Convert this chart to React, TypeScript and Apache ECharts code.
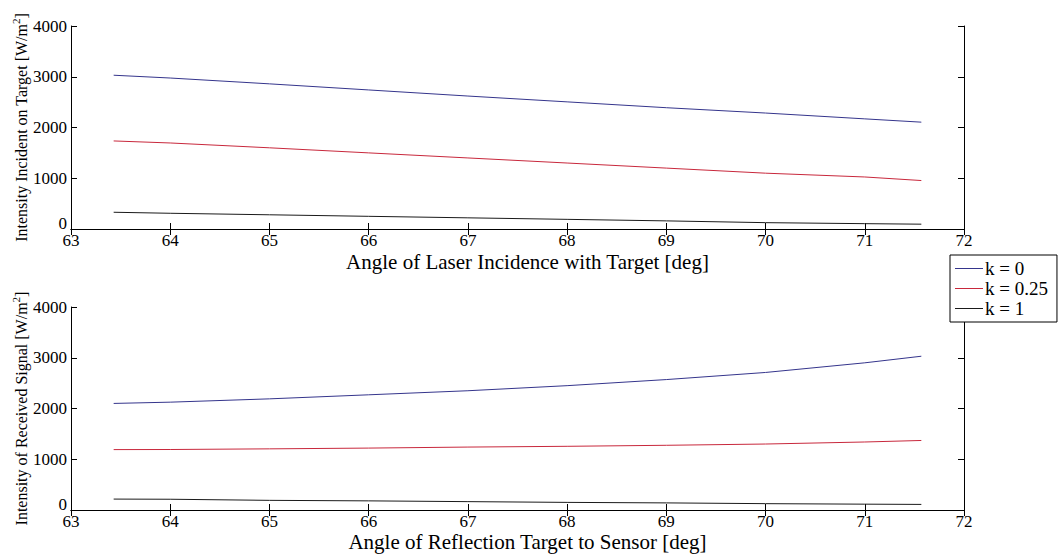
import React, { useEffect, useRef } from 'react';
import * as echarts from 'echarts';

// Angles (deg): atan(2) .. atan(3)
const angles = [63.43, 64, 65, 66, 67, 68, 69, 70, 71, 71.57];

// Top plot: Intensity incident on target [W/m^2]
const incidentK0 = [3030, 2975, 2860, 2740, 2620, 2505, 2390, 2285, 2170, 2105];
const incidentK025 = [1735, 1695, 1600, 1500, 1400, 1300, 1200, 1100, 1025, 955];
const incidentK1 = [330, 310, 280, 250, 220, 190, 160, 125, 105, 95];

// Bottom plot: Intensity of received signal [W/m^2]
const receivedK0 = [2100, 2125, 2190, 2270, 2350, 2450, 2570, 2710, 2900, 3030];
const receivedK025 = [1190, 1192, 1205, 1220, 1240, 1255, 1275, 1300, 1340, 1370];
const receivedK1 = [215, 212, 190, 180, 165, 150, 140, 125, 115, 110];

const seriesNames = ['k = 0', 'k = 0.25', 'k = 1'];
const seriesColors = ['#35358c', '#c8283c', '#1a1a1a'];

const xMin = 63;
const xMax = 72;
const xStep = 1;
const yMin = 0;
const yMax = 4000;
const yStep = 1000;

const FONT = 'Liberation Serif';

export default function App() {
  const ref = useRef<HTMLDivElement>(null);

  useEffect(() => {
    const chart = echarts.init(ref.current!, null, { renderer: 'svg' });

    const axisLine = { show: true, lineStyle: { color: '#000', width: 1 } };
    const tick = { show: true, inside: true, length: 6, lineStyle: { color: '#000', width: 1 } };

    const grids = [
      { left: 71, top: 26, width: 893, height: 203, outerBoundsMode: 'none', containLabel: false },
      { left: 71, top: 307, width: 893, height: 203, outerBoundsMode: 'none', containLabel: false },
    ];
    const xNames = ['Angle of Laser Incidence with Target [deg]', 'Angle of Reflection Target to Sensor [deg]'];
    const xNameGaps = [22, 21];
    const yNames = ['Intensity Incident on Target [W/m{s|2}]', 'Intensity of Received Signal [W/m{s|2}]'];

    const xAxis: any[] = [];
    const yAxis: any[] = [];
    [0, 1].forEach((g) => {
      xAxis.push({
        type: 'value', gridIndex: g, min: xMin, max: xMax, interval: xStep, position: 'bottom',
        axisLine, axisTick: tick, splitLine: { show: false },
        axisLabel: { fontFamily: FONT, fontSize: 17, color: '#000', margin: 6, lineHeight: 11, formatter: (v: number) => String(v) },
        name: xNames[g], nameLocation: 'middle', nameGap: xNameGaps[g], nameMoveOverlap: false,
        nameTextStyle: { fontFamily: FONT, fontSize: 21, color: '#000', lineHeight: 21, padding: [0, 0, 0, 20] },
      });
      xAxis.push({
        type: 'value', gridIndex: g, min: xMin, max: xMax, interval: xStep, position: 'top',
        axisLine, axisTick: tick, splitLine: { show: false }, axisLabel: { show: false },
      });
      yAxis.push({
        type: 'value', gridIndex: g, min: yMin, max: yMax, interval: yStep, position: 'left',
        axisLine, axisTick: tick, splitLine: { show: false },
        axisLabel: {
          fontFamily: FONT, fontSize: 17, color: '#000', margin: 4, lineHeight: 11,
          formatter: (v: number) => (v === 0 ? '{z|0}' : String(v)),
          rich: { z: { fontFamily: FONT, fontSize: 17, color: '#000', lineHeight: 11, padding: [0, 0, 12, 0] } },
        },
        name: yNames[g], nameLocation: 'middle', nameGap: 42, nameMoveOverlap: false,
        nameTextStyle: {
          fontFamily: FONT, fontSize: 16, color: '#000', lineHeight: 16,
          rich: { s: { fontFamily: FONT, fontSize: 11, lineHeight: 11, padding: [0, 0, 10, 0], color: '#000' } },
        },
      });
      yAxis.push({
        type: 'value', gridIndex: g, min: yMin, max: yMax, interval: yStep, position: 'right',
        axisLine, axisTick: tick, splitLine: { show: false }, axisLabel: { show: false },
      });
    });

    const topData = [incidentK0, incidentK025, incidentK1];
    const botData = [receivedK0, receivedK025, receivedK1];
    const series: any[] = [];
    [topData, botData].forEach((set, g) => {
      set.forEach((vals, i) => {
        series.push({
          type: 'line', name: seriesNames[i], xAxisIndex: g * 2, yAxisIndex: g * 2,
          data: angles.map((a, j) => [a, vals[j]]),
          symbol: 'none', showSymbol: false, color: seriesColors[i],
          lineStyle: { width: 1, color: seriesColors[i] },
        });
      });
    });

    chart.setOption({
      animation: false,
      backgroundColor: '#fff',
      textStyle: { fontFamily: FONT },
      grid: grids,
      xAxis,
      yAxis,
      legend: {
        data: seriesNames.map((n) => ({ name: n, icon: 'rect' })),
        orient: 'vertical',
        left: 950,
        top: 255,
        padding: [4, 9, 4, 5],
        itemWidth: 28,
        itemHeight: 1,
        itemGap: 1,
        backgroundColor: '#fff',
        borderColor: '#000',
        borderWidth: 1,
        borderRadius: 0,
        z: 10,
        textStyle: { fontFamily: FONT, fontSize: 19, lineHeight: 19, color: '#000', padding: [0, 0, 0, -3] },
      },
      series,
    });

    return () => chart.dispose();
  }, []);

  return (
    <div
      ref={ref}
      style={{ position: 'fixed', left: 0, top: 0, width: 1063, height: 554, background: '#fff' }}
    />
  );
}
